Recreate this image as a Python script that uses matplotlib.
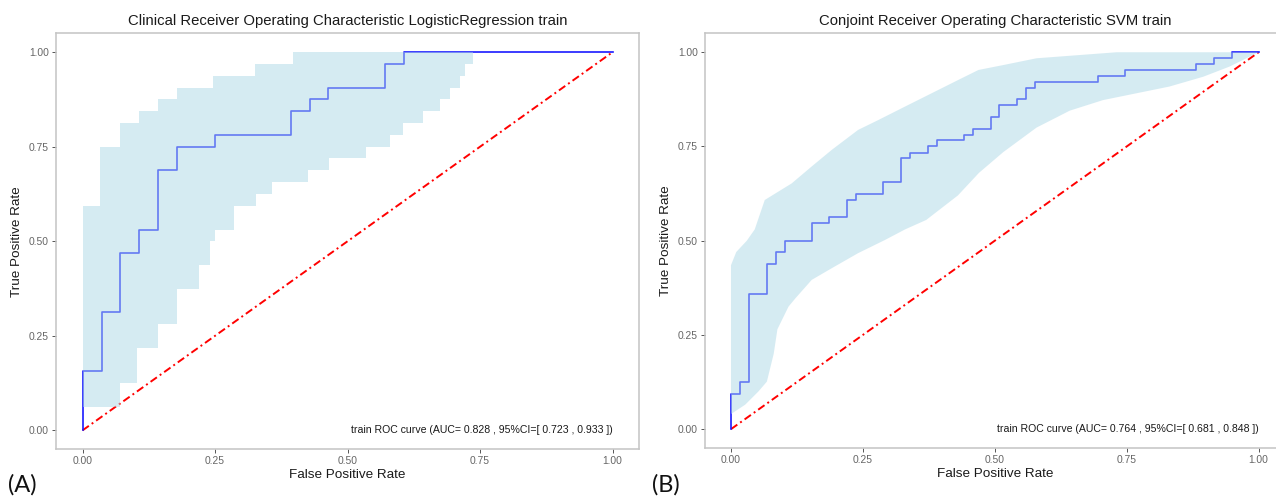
import matplotlib
matplotlib.use('Agg')
import matplotlib.pyplot as plt

plt.rcParams['font.family'] = ['Liberation Sans', 'DejaVu Sans']

# ---------------- data ----------------
ticks = [0.0, 0.25, 0.5, 0.75, 1.0]
tick_labels = ["0.00", "0.25", "0.50", "0.75", "1.00"]

a_title = "Clinical Receiver Operating Characteristic LogisticRegression train"
a_note = "train ROC curve (AUC= 0.828 , 95%CI=[ 0.723 , 0.933 ])"
a_fpr = [0, 0, 0.036, 0.071, 0.107, 0.143, 0.179, 0.25, 0.393, 0.429, 0.464, 0.571, 0.607, 1.0]
a_tpr = [0, 0.156, 0.3125, 0.469, 0.531, 0.6875, 0.75, 0.781, 0.844, 0.875, 0.906, 0.969, 1.0, 1.0]
a_up_x = [0, 0.033, 0.071, 0.106, 0.143, 0.178, 0.247, 0.326, 0.398, 0.75]
a_up_y = [0.594, 0.75, 0.8125, 0.844, 0.875, 0.906, 0.9375, 0.969, 1.0, 1.0]
a_lo_x = [0, 0.07, 0.103, 0.143, 0.178, 0.219, 0.241, 0.25, 0.286, 0.327, 0.357, 0.426,
          0.466, 0.534, 0.58, 0.605, 0.643, 0.675, 0.694, 0.713, 0.722, 0.737, 0.75]
a_lo_y = [0.0625, 0.125, 0.219, 0.281, 0.375, 0.4375, 0.5, 0.531, 0.594, 0.625, 0.656, 0.6875,
          0.719, 0.75, 0.781, 0.8125, 0.844, 0.875, 0.906, 0.9375, 0.969, 1.0, 1.0]

b_title = "Conjoint Receiver Operating Characteristic SVM train"
b_note = "train ROC curve (AUC= 0.764 , 95%CI=[ 0.681 , 0.848 ])"
b_fpr = [0, 0, 0.017, 0.034, 0.068, 0.085, 0.102, 0.153, 0.186, 0.220, 0.237, 0.288, 0.322,
         0.339, 0.373, 0.390, 0.441, 0.458, 0.492, 0.508, 0.542, 0.559, 0.576, 0.695, 0.746,
         0.881, 0.915, 0.949, 1.0]
b_tpr = [0, 0.094, 0.125, 0.359, 0.438, 0.469, 0.5, 0.547, 0.5625, 0.609, 0.625, 0.656, 0.719,
         0.734, 0.75, 0.766, 0.781, 0.797, 0.828, 0.859, 0.875, 0.906, 0.922, 0.938, 0.953,
         0.969, 0.984, 1.0, 1.0]
b_up_x = [0, 0.01, 0.03, 0.045, 0.064, 0.115, 0.153, 0.191, 0.241, 0.279, 0.33, 0.38, 0.43,
          0.469, 0.516, 0.579, 0.731, 1.0]
b_up_y = [0.435, 0.47, 0.50, 0.53, 0.608, 0.652, 0.697, 0.741, 0.794, 0.82, 0.856, 0.891,
          0.926, 0.953, 0.966, 0.984, 1.0, 1.0]
b_lo_x = [0, 0.027, 0.052, 0.068, 0.081, 0.088, 0.109, 0.122, 0.153, 0.191, 0.241, 0.292,
          0.33, 0.37, 0.43, 0.47, 0.516, 0.579, 0.642, 0.705, 0.768, 0.831, 0.895, 0.945, 1.0]
b_lo_y = [0.04, 0.065, 0.1, 0.126, 0.2, 0.265, 0.325, 0.347, 0.396, 0.427, 0.467, 0.502,
          0.53, 0.555, 0.62, 0.68, 0.735, 0.80, 0.845, 0.873, 0.891, 0.909, 0.935, 0.962, 1.0]


def step_path(xs, ys):
    px, py = [xs[0]], [ys[0]]
    for i in range(1, len(xs)):
        px += [xs[i], xs[i]]
        py += [ys[i - 1], ys[i]]
    return px, py


def draw_panel(ax, title, note, fpr, tpr, ux, uy, lx, ly, stepped):
    ax.plot([0, 1], [0, 1], color='#ff0000', lw=1.4,
            linestyle=(0, (4, 1.8, 1, 1.8)), zorder=2)
    ax.step(fpr, tpr, where='post', color='#1a1aff', lw=1.2, zorder=3)
    if stepped:
        ux2, uy2 = step_path(ux, uy)
        lx2, ly2 = step_path(lx, ly)
    else:
        ux2, uy2, lx2, ly2 = list(ux), list(uy), list(lx), list(ly)
    ax.fill(ux2 + lx2[::-1], uy2 + ly2[::-1], color='#ADD8E6', alpha=0.5,
            lw=0, zorder=4)
    ax.text(1.0, 0.0, note, ha='right', va='center', fontsize=7.6,
            color='#1a1a1a', zorder=5)
    ax.set_xlim(-0.05, 1.05)
    ax.set_ylim(-0.05, 1.05)
    ax.set_xticks(ticks)
    ax.set_xticklabels(tick_labels)
    ax.set_yticks(ticks)
    ax.set_yticklabels(tick_labels)
    ax.tick_params(direction='out', length=3, width=0.7, color='#555555',
                   labelsize=7.4, labelcolor='#666666', pad=2)
    for s in ax.spines.values():
        s.set_color('#c4c4c4')
        s.set_linewidth(1.1)
    ax.set_title(title, fontsize=10.7, color='#1a1a1a', pad=6)
    ax.set_xlabel("False Positive Rate", fontsize=9.7, color='#1a1a1a', labelpad=2)
    ax.set_ylabel("True Positive Rate", fontsize=9.7, color='#1a1a1a', labelpad=4)


fig = plt.figure(figsize=(12.76, 4.97), dpi=100)
axA = fig.add_axes([56 / 1276, 1 - 449.3 / 497, 583 / 1276, 416 / 497])
axB = fig.add_axes([704.6 / 1276, 1 - 448 / 497, 580.4 / 1276, 414.6 / 497])

draw_panel(axA, a_title, a_note, a_fpr, a_tpr, a_up_x, a_up_y, a_lo_x, a_lo_y, True)
draw_panel(axB, b_title, b_note, b_fpr, b_tpr, b_up_x, b_up_y, b_lo_x, b_lo_y, False)

fig.text(8 / 1276, 1 - 492 / 497, "(A)", fontsize=17, family=['Lato', 'DejaVu Sans'],
         color='#111111', va='baseline', ha='left')
fig.text(652 / 1276, 1 - 492 / 497, "(B)", fontsize=17, family=['Lato', 'DejaVu Sans'],
         color='#111111', va='baseline', ha='left')

fig.savefig('out.png', dpi=100)
